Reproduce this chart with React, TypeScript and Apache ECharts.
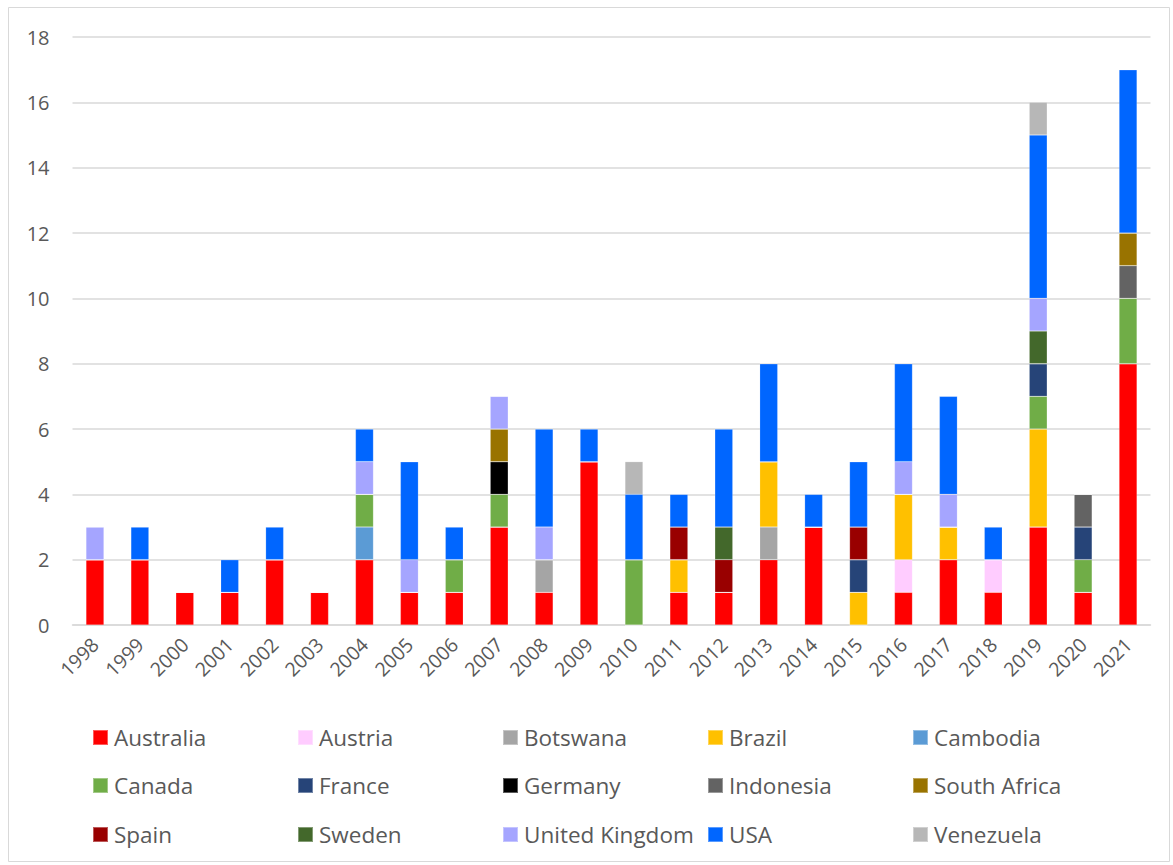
import React, { useEffect, useRef } from "react";
import * as echarts from "echarts";

const years = ["1998","1999","2000","2001","2002","2003","2004","2005","2006","2007","2008","2009","2010","2011","2012","2013","2014","2015","2016","2017","2018","2019","2020","2021"];
const countries = ["Australia","Austria","Botswana","Brazil","Cambodia","Canada","France","Germany","Indonesia","South Africa","Spain","Sweden","United Kingdom","USA","Venezuela"];
const colors = ["#FF0000","#FFCCFF","#A5A5A5","#FFC000","#5B9BD5","#70AD47","#264478","#000000","#636363","#997300","#990000","#43682B","#A5A5FF","#0066FF","#B7B7B7"];

//                      98 99 00 01 02 03 04 05 06 07 08 09 10 11 12 13 14 15 16 17 18 19 20 21
const australia     = [2, 2, 1, 1, 2, 1, 2, 1, 1, 3, 1, 5, 0, 1, 1, 2, 3, 0, 1, 2, 1, 3, 1, 8];
const austria       = [0, 0, 0, 0, 0, 0, 0, 0, 0, 0, 0, 0, 0, 0, 0, 0, 0, 0, 1, 0, 1, 0, 0, 0];
const botswana      = [0, 0, 0, 0, 0, 0, 0, 0, 0, 0, 1, 0, 0, 0, 0, 1, 0, 0, 0, 0, 0, 0, 0, 0];
const brazil        = [0, 0, 0, 0, 0, 0, 0, 0, 0, 0, 0, 0, 0, 1, 0, 2, 0, 1, 2, 1, 0, 3, 0, 0];
const cambodia      = [0, 0, 0, 0, 0, 0, 1, 0, 0, 0, 0, 0, 0, 0, 0, 0, 0, 0, 0, 0, 0, 0, 0, 0];
const canada        = [0, 0, 0, 0, 0, 0, 1, 0, 1, 1, 0, 0, 2, 0, 0, 0, 0, 0, 0, 0, 0, 1, 1, 2];
const france        = [0, 0, 0, 0, 0, 0, 0, 0, 0, 0, 0, 0, 0, 0, 0, 0, 0, 1, 0, 0, 0, 1, 1, 0];
const germany       = [0, 0, 0, 0, 0, 0, 0, 0, 0, 1, 0, 0, 0, 0, 0, 0, 0, 0, 0, 0, 0, 0, 0, 0];
const indonesia     = [0, 0, 0, 0, 0, 0, 0, 0, 0, 0, 0, 0, 0, 0, 0, 0, 0, 0, 0, 0, 0, 0, 1, 1];
const southAfrica   = [0, 0, 0, 0, 0, 0, 0, 0, 0, 1, 0, 0, 0, 0, 0, 0, 0, 0, 0, 0, 0, 0, 0, 1];
const spain         = [0, 0, 0, 0, 0, 0, 0, 0, 0, 0, 0, 0, 0, 1, 1, 0, 0, 1, 0, 0, 0, 0, 0, 0];
const sweden        = [0, 0, 0, 0, 0, 0, 0, 0, 0, 0, 0, 0, 0, 0, 1, 0, 0, 0, 0, 0, 0, 1, 0, 0];
const unitedKingdom = [1, 0, 0, 0, 0, 0, 1, 1, 0, 1, 1, 0, 0, 0, 0, 0, 0, 0, 1, 1, 0, 1, 0, 0];
const usa           = [0, 1, 0, 1, 1, 0, 1, 3, 1, 0, 3, 1, 2, 1, 3, 3, 1, 2, 3, 3, 1, 5, 0, 5];
const venezuela     = [0, 0, 0, 0, 0, 0, 0, 0, 0, 0, 0, 0, 1, 0, 0, 0, 0, 0, 0, 0, 0, 1, 0, 0];

const seriesValues = [australia, austria, botswana, brazil, cambodia, canada, france, germany, indonesia, southAfrica, spain, sweden, unitedKingdom, usa, venezuela];
const yTicks = [0, 2, 4, 6, 8, 10, 12, 14, 16, 18];

const FONT = "'Open Sans', 'Noto Sans', sans-serif";

export default function App() {
  const ref = useRef<HTMLDivElement>(null);
  useEffect(() => {
    if (!ref.current) return;
    const chart = echarts.init(ref.current, null, { renderer: "svg" });
    const colX = [92, 297, 502, 707, 912];
    const rowY = [737.5, 785.5, 834.5];
    const legends = countries.map((c, i) => ({
      data: [c],
      left: colX[i % 5],
      top: rowY[Math.floor(i / 5)] - 14,
      padding: 0,
      itemWidth: 15,
      itemHeight: 15,
      itemGap: 0,
      icon: "rect",
      selectedMode: false,
      textStyle: { fontSize: 22.5, color: "#595959", fontFamily: FONT, lineHeight: 28, padding: [0, 0, 0, 1] },
    }));
    chart.setOption({
      animation: false,
      color: colors,
      textStyle: { fontFamily: FONT },
      graphic: [
        {
          type: "rect",
          shape: { x: 8.5, y: 7.5, width: 1161, height: 854 },
          style: { fill: "none", stroke: "#D9D9D9", lineWidth: 1 },
          silent: true,
        },
      ],
      legend: legends,
      grid: { left: 72.5, right: 22.5, top: 37, bottom: 240, containLabel: false },
      xAxis: {
        type: "category",
        data: years,
        axisLine: { lineStyle: { color: "#D9D9D9", width: 1.5 } },
        axisTick: { show: false },
        axisLabel: { rotate: 45, fontSize: 19.5, color: "#595959", fontFamily: FONT, margin: 16, interval: 0 },
      },
      yAxis: {
        type: "value",
        min: 0,
        max: yTicks[yTicks.length - 1],
        interval: 2,
        axisLine: { show: false },
        axisTick: { show: false },
        axisLabel: { fontSize: 20, color: "#595959", fontFamily: FONT, margin: 23 },
        splitLine: { lineStyle: { color: "#D9D9D9", width: 1.5 } },
      },
      series: countries.map((c, i) => ({
        name: c,
        type: "bar",
        stack: "total",
        data: seriesValues[i],
        barWidth: "40%",
        itemStyle: { color: colors[i], borderColor: "rgba(255,255,255,0.35)", borderWidth: 0.5 },
      })),
    });
    return () => chart.dispose();
  }, []);
  return <div ref={ref} style={{ position: "absolute", left: 0, top: 0, width: 1173, height: 865 }} />;
}
